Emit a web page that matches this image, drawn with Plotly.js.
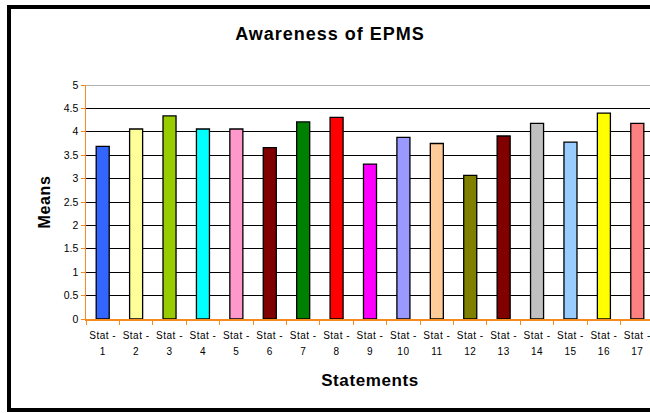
<!DOCTYPE html>
<html><head><meta charset="utf-8">
<script src="https://cdn.plot.ly/plotly-3.0.1.min.js"></script>
<style>
html,body{margin:0;padding:0;overflow:hidden;background:#fff;width:650px;height:413px}
.gtitle{letter-spacing:1px}
.xtitle{letter-spacing:0.6px}
.ytitle{letter-spacing:0.6px}
.xtick text{letter-spacing:0.5px}
</style>
</head><body><div id="chart"></div>
<script>
const categories = ["Stat - 1","Stat - 2","Stat - 3","Stat - 4","Stat - 5","Stat - 6","Stat - 7","Stat - 8","Stat - 9","Stat - 10","Stat - 11","Stat - 12","Stat - 13","Stat - 14","Stat - 15","Stat - 16","Stat - 17"];
const means = [3.69,4.06,4.34,4.06,4.06,3.66,4.21,4.31,3.31,3.88,3.75,3.07,3.91,4.18,3.78,4.40,4.18];
const barColors = ["#3366FF","#FFFF99","#99CC00","#00FFFF","#FF99CC","#800000","#008000","#FF0000","#FF00FF","#9999FF","#FFCC99","#808000","#800000","#C0C0C0","#99CCFF","#FFFF00","#FF8080"];
const yTicks = [0,0.5,1,1.5,2,2.5,3,3.5,4,4.5,5];

const W = 664, H = 413, L = 86, R = 10, T = 85, B = 94;
const pw = W - L - R, ph = H - T - B;
const px = v => (v - L) / pw;
const py = v => (H - B - v) / ph;

const tickText = categories.map(c => {
  const i = c.lastIndexOf(" ");
  return '<span style="font-size:10px">' + c.slice(0, i) + '</span><br><span style="font-size:10px">' + c.slice(i + 1) + '</span>';
});

const data = [{
  type: "bar",
  x: categories,
  y: means,
  width: 0.39,
  marker: {color: barColors, line: {color: "#000", width: 1.3}},
  hoverinfo: "skip"
}];

const layout = {
  width: W, height: H,
  margin: {l: L, r: R, t: T, b: B},
  paper_bgcolor: "#fff", plot_bgcolor: "#fff",
  showlegend: false,
  font: {family: "Liberation Sans, Arial, sans-serif", color: "#000"},
  title: {text: "<b>Awareness of EPMS</b>", font: {size: 18, color: "#000"}, x: 0.497, xref: "container", xanchor: "center", y: 1 - 34/H, yref: "container", yanchor: "middle"},
  xaxis: {
    type: "category", range: [-0.5, 16.5],
    tickvals: categories, ticktext: tickText,
    showline: true, linecolor: "#F58A1F", linewidth: 1.5,
    ticks: "outside", tickson: "boundaries", ticklen: 4, tickcolor: "#F58A1F",
    tickfont: {size: 12.5}, tickangle: 0, ticklabelstandoff: 3,
    title: {text: "<b>Statements</b>", font: {size: 17}, standoff: 18},
    showgrid: false, fixedrange: true
  },
  yaxis: {
    range: [0, 5], tickvals: yTicks, ticktext: yTicks.map(String),
    showline: true, linecolor: "#F58A1F", linewidth: 1.5,
    ticks: "outside", ticklen: 4, tickcolor: "#F58A1F",
    tickfont: {size: 10.5},
    showgrid: true, gridcolor: "#000", gridwidth: 1,
    zeroline: false,
    title: {text: "<b>Means</b>", font: {size: 16}, standoff: 9},
    fixedrange: true
  },
  shapes: [
    {type: "line", xref: "paper", yref: "y", x0: 0, x1: 1, y0: 5, y1: 5, line: {color: "#999", width: 1.5}},
    {type: "rect", xref: "paper", yref: "paper", x0: px(9), x1: px(700), y0: py(7), y1: py(410), line: {color: "#000", width: 4}, fillcolor: "rgba(0,0,0,0)", layer: "above"}
  ]
};

Plotly.newPlot("chart", data, layout, {staticPlot: true, displayModeBar: false});
</script></body></html>
